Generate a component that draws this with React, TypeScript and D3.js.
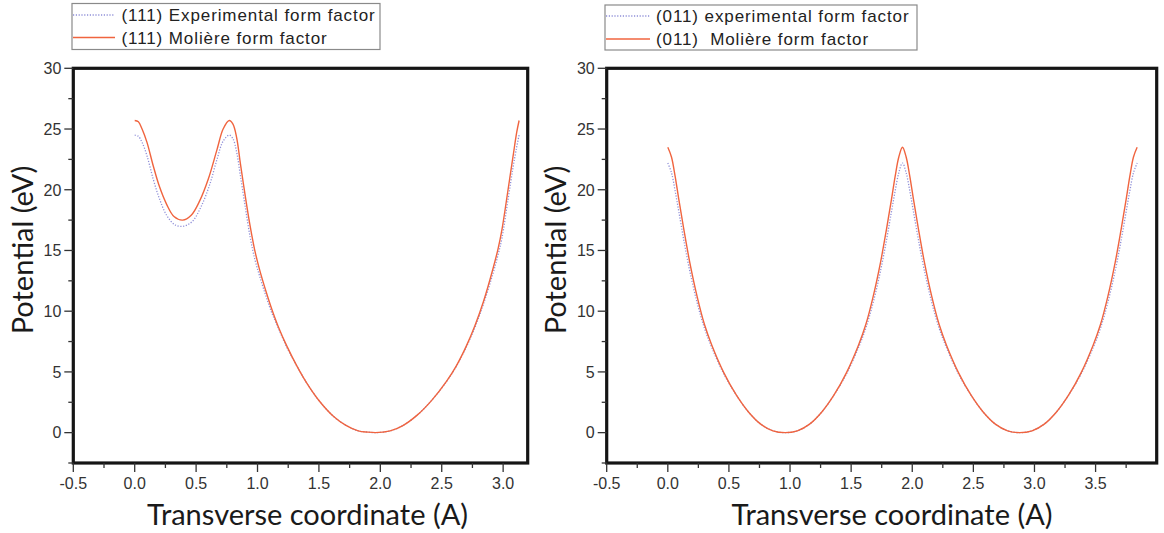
import React from "react";
import * as d3 from "d3";

// ---------- data ----------
// Left panel: (111) planar potential
const x111Moliere = [0.0, 0.03, 0.06, 0.1, 0.15, 0.2, 0.26, 0.32, 0.39, 0.46, 0.53, 0.6, 0.67, 0.72, 0.77, 0.8, 0.83, 0.86, 0.9, 0.94, 0.98, 1.02, 1.07, 1.115, 1.17, 1.24, 1.32, 1.4, 1.5, 1.62, 1.72, 1.82, 1.9, 1.96, 2.02, 2.08, 2.18, 2.3, 2.42, 2.54, 2.62, 2.7, 2.77, 2.84, 2.92, 2.96, 2.99, 3.04, 3.08, 3.11, 3.13];
const y111Moliere = [25.7, 25.6, 25.0, 23.9, 22.0, 20.3, 18.8, 17.8, 17.5, 17.9, 19.1, 20.9, 23.3, 25.0, 25.7, 25.4, 24.3, 22.2, 19.5, 17.0, 14.9, 13.3, 11.6, 10.2, 8.7, 7.1, 5.5, 4.1, 2.65, 1.33, 0.6, 0.15, 0.04, 0.0, 0.04, 0.14, 0.56, 1.44, 2.68, 4.24, 5.52, 7.12, 8.8, 10.8, 13.6, 15.2, 16.7, 20.0, 22.7, 24.7, 25.7];
const x111Exp = [0.0, 0.03, 0.06, 0.1, 0.15, 0.2, 0.26, 0.33, 0.4, 0.47, 0.54, 0.61, 0.67, 0.72, 0.77, 0.8, 0.83, 0.86, 0.9, 0.94, 0.98, 1.02, 1.07, 1.115, 1.17, 1.24, 1.32, 1.4, 1.5, 1.62, 1.72, 1.82, 1.9, 1.96, 2.02, 2.08, 2.18, 2.3, 2.42, 2.54, 2.62, 2.7, 2.77, 2.84, 2.92, 2.96, 2.99, 3.04, 3.08, 3.11, 3.13];
const y111Exp = [24.5, 24.4, 23.9, 22.8, 20.9, 19.3, 17.9, 17.1, 17.0, 17.4, 18.6, 20.4, 22.5, 24.0, 24.5, 24.2, 23.1, 21.2, 18.6, 16.1, 14.2, 12.8, 11.2, 9.9, 8.6, 7.0, 5.5, 4.1, 2.65, 1.33, 0.6, 0.15, 0.04, 0.0, 0.04, 0.14, 0.56, 1.44, 2.68, 4.22, 5.48, 7.05, 8.65, 10.6, 13.2, 14.7, 16.0, 19.2, 21.8, 23.5, 24.5];

// Right panel: (011) planar potential
const x011Moliere = [0.0, 0.03, 0.06, 0.09, 0.13, 0.18, 0.24, 0.3, 0.36, 0.46, 0.56, 0.66, 0.76, 0.86, 0.96, 1.06, 1.16, 1.26, 1.36, 1.46, 1.56, 1.62, 1.68, 1.74, 1.79, 1.83, 1.86, 1.89, 1.92, 1.95, 1.98, 2.01, 2.05, 2.1, 2.16, 2.22, 2.28, 2.38, 2.48, 2.58, 2.68, 2.78, 2.88, 2.98, 3.08, 3.18, 3.28, 3.38, 3.48, 3.54, 3.6, 3.66, 3.71, 3.75, 3.78, 3.81, 3.84];
const y011Moliere = [23.5, 22.7, 21.1, 19.2, 16.8, 14.0, 11.2, 8.9, 7.2, 4.9, 3.1, 1.7, 0.7, 0.15, 0.0, 0.15, 0.7, 1.7, 3.1, 4.9, 7.2, 8.9, 11.2, 14.0, 16.8, 19.2, 21.1, 22.7, 23.5, 22.7, 21.1, 19.2, 16.8, 14.0, 11.2, 8.9, 7.2, 4.9, 3.1, 1.7, 0.7, 0.15, 0.0, 0.15, 0.7, 1.7, 3.1, 4.9, 7.2, 8.9, 11.2, 14.0, 16.8, 19.2, 21.1, 22.7, 23.5];
const x011Exp = x011Moliere;
const y011Exp = [22.2, 21.4, 19.9, 18.2, 15.9, 13.3, 10.7, 8.6, 7.0, 4.8, 3.1, 1.7, 0.7, 0.15, 0.0, 0.15, 0.7, 1.7, 3.1, 4.8, 7.0, 8.6, 10.7, 13.3, 15.9, 18.2, 19.9, 21.4, 22.2, 21.4, 19.9, 18.2, 15.9, 13.3, 10.7, 8.6, 7.0, 4.8, 3.1, 1.7, 0.7, 0.15, 0.0, 0.15, 0.7, 1.7, 3.1, 4.8, 7.0, 8.6, 10.7, 13.3, 15.9, 18.2, 19.9, 21.4, 22.2];

const xTickLabelsLeft = ["-0.5", "0.0", "0.5", "1.0", "1.5", "2.0", "2.5", "3.0"];
const xTickLabelsRight = ["-0.5", "0.0", "0.5", "1.0", "1.5", "2.0", "2.5", "3.0", "3.5"];
const yTickLabels = ["0", "5", "10", "15", "20", "25", "30"];

const legendLeft = ["(111) Experimental form factor", "(111) Molière form factor"];
const legendRight = ["(011) experimental form factor", "(011)\u00a0 Molière form factor"];

const xTitle = "Transverse coordinate (A)";
const yTitle = "Potential (eV)";

// ---------- styles ----------
const MOL_COLOR = "#f0643f";
const EXP_COLOR = "#8f8fd8";
const TICK_FONT = "'Liberation Sans', Arial, sans-serif";
const TITLE_FONT = "Lato, 'Open Sans', sans-serif";

type PanelProps = {
  x0: number;
  x1: number;
  xDomain: [number, number];
  xLabels: string[];
  molX: number[];
  molY: number[];
  expX: number[];
  expY: number[];
  legend: string[];
  legendBox: { x: number; y: number; w: number; h: number; rowY: [number, number]; lineW: number; textX: number };
  xTitleX: number;
  yTitleX: number;
  yTitleY: number;
};

const Y_TOP = 68.3;
const Y_BOT = 463;

function Panel(p: PanelProps) {
  const x = d3.scaleLinear().domain(p.xDomain).range([p.x0, p.x1]);
  const y = d3.scaleLinear().domain([-2.5, 30]).range([Y_BOT, Y_TOP]);
  const line = d3
    .line<[number, number]>()
    .x((d) => x(d[0]))
    .y((d) => y(d[1]))
    .curve(d3.curveCatmullRom.alpha(0.5));
  const mol = line(p.molX.map((v, i) => [v, p.molY[i]] as [number, number])) || "";
  const exp = line(p.expX.map((v, i) => [v, p.expY[i]] as [number, number])) || "";

  const xMajor = p.xLabels.map((s) => +s);
  const xMinor = d3.range(p.xDomain[0], p.xDomain[1] + 1e-6, 0.25).filter((v) => Math.abs(v * 2 - Math.round(v * 2)) > 1e-6);
  const yMajor = yTickLabels.map((s) => +s);
  const yMinor = d3.range(-2.5, 30, 5);
  const lb = p.legendBox;

  return (
    <g>
      {/* curves */}
      <path d={exp} fill="none" stroke={EXP_COLOR} strokeWidth={1.3} strokeDasharray="1.2,1.6" />
      <path d={mol} fill="none" stroke={MOL_COLOR} strokeWidth={1.4} />
      {/* frame */}
      <rect x={p.x0} y={Y_TOP} width={p.x1 - p.x0} height={Y_BOT - Y_TOP} fill="none" stroke="#151515" strokeWidth={3.2} />
      {/* x ticks */}
      {xMajor.map((v, i) => (
        <g key={"xm" + i}>
          <line x1={x(v)} x2={x(v)} y1={Y_BOT} y2={Y_BOT + 9} stroke="#333" strokeWidth={1.3} />
          <text x={x(v)} y={489} textAnchor="middle" fontFamily={TICK_FONT} fontSize={16} fill="#333">
            {p.xLabels[i]}
          </text>
        </g>
      ))}
      {xMinor.map((v, i) => (
        <line key={"xn" + i} x1={x(v)} x2={x(v)} y1={Y_BOT} y2={Y_BOT + 5} stroke="#333" strokeWidth={1.3} />
      ))}
      {/* y ticks */}
      {yMajor.map((v, i) => (
        <g key={"ym" + i}>
          <line x1={p.x0 - 9} x2={p.x0} y1={y(v)} y2={y(v)} stroke="#333" strokeWidth={1.3} />
          <text x={p.x0 - 12} y={y(v) + 5.8} textAnchor="end" fontFamily={TICK_FONT} fontSize={16} fill="#333">
            {yTickLabels[i]}
          </text>
        </g>
      ))}
      {yMinor.map((v, i) => (
        <line key={"yn" + i} x1={p.x0 - 5} x2={p.x0} y1={y(v)} y2={y(v)} stroke="#333" strokeWidth={1.3} />
      ))}
      {/* axis titles */}
      <text x={p.xTitleX} y={525} textAnchor="middle" fontFamily={TITLE_FONT} fontSize={29} fill="#1a1a1a">
        {xTitle}
      </text>
      <text
        transform={`translate(${p.yTitleX},${p.yTitleY}) rotate(-90)`}
        textAnchor="middle"
        fontFamily={TITLE_FONT}
        fontSize={29}
        fill="#1a1a1a"
      >
        {yTitle}
      </text>
      {/* legend */}
      <rect x={lb.x} y={lb.y} width={lb.w} height={lb.h} fill="white" stroke="#8a8a8a" strokeWidth={1.2} />
      <line x1={lb.x + 1} x2={lb.x + lb.lineW} y1={lb.rowY[0]} y2={lb.rowY[0]} stroke={EXP_COLOR} strokeWidth={1.3} strokeDasharray="1.2,1.6" />
      <line x1={lb.x + 1} x2={lb.x + lb.lineW} y1={lb.rowY[1]} y2={lb.rowY[1]} stroke={MOL_COLOR} strokeWidth={1.4} />
      {p.legend.map((s, i) => (
        <text key={"lg" + i} x={lb.textX} y={lb.rowY[i] + 6} fontFamily={TICK_FONT} fontSize={17} fill="#222" letterSpacing={0.9}>
          {s}
        </text>
      ))}
    </g>
  );
}

export default function App() {
  return (
    <div style={{ position: "absolute", left: 0, top: 0 }}>
      <svg width={1164} height={533} style={{ display: "block", background: "white" }}>
        <Panel
          x0={73.3}
          x1={527.7}
          xDomain={[-0.5, 3.2]}
          xLabels={xTickLabelsLeft}
          molX={x111Moliere}
          molY={y111Moliere}
          expX={x111Exp}
          expY={y111Exp}
          legend={legendLeft}
          legendBox={{ x: 72, y: 3.5, w: 308, h: 46, rowY: [15, 37.5], lineW: 43, textX: 121.5 }}
          xTitleX={307.5}
          yTitleX={33}
          yTitleY={250}
        />
        <Panel
          x0={606.7}
          x1={1156.7}
          xDomain={[-0.5, 4.0]}
          xLabels={xTickLabelsRight}
          molX={x011Moliere}
          molY={y011Moliere}
          expX={x011Exp}
          expY={y011Exp}
          legend={legendRight}
          legendBox={{ x: 605, y: 5, w: 312, h: 45, rowY: [16, 39], lineW: 45, textX: 656 }}
          xTitleX={892}
          yTitleX={566}
          yTitleY={250}
        />
      </svg>
    </div>
  );
}
